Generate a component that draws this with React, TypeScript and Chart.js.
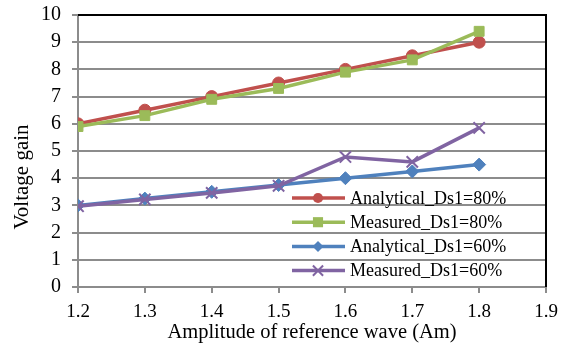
import React, { useEffect, useRef } from "react";
import { Chart, registerables } from "chart.js";

Chart.register(...registerables);

const xValues = [1.2, 1.3, 1.4, 1.5, 1.6, 1.7, 1.8];
const analytical80 = [6, 6.5, 7, 7.5, 8, 8.5, 9];
const measured80 = [5.9, 6.3, 6.9, 7.3, 7.9, 8.35, 9.4];
const analytical60 = [3, 3.25, 3.5, 3.75, 4, 4.25, 4.5];
const measured60 = [2.97, 3.22, 3.46, 3.72, 4.78, 4.6, 5.85];
const seriesNames = ["Analytical_Ds1=80%", "Measured_Ds1=80%", "Analytical_Ds1=60%", "Measured_Ds1=60%"];
const xTitle = "Amplitude of reference wave (Am)";
const yTitle = "Voltage gain";

const FONT = "'Liberation Serif', 'Times New Roman', serif";
const COLORS = ["#C0504D", "#9BBB59", "#4F81BD", "#8064A2"];
const STYLES = ["circle", "rect", "rectRot", "crossRot"];
const RADII = [6, 7, 6.5, 8];

function drawMarker(ctx: CanvasRenderingContext2D, style: string, x: number, y: number, r: number, color: string) {
  ctx.save();
  ctx.fillStyle = color;
  ctx.strokeStyle = color;
  ctx.lineWidth = 2;
  ctx.beginPath();
  if (style === "circle") {
    ctx.arc(x, y, r, 0, Math.PI * 2);
    ctx.fill();
  } else if (style === "rect") {
    const s = r * 0.85;
    ctx.rect(x - s, y - s, 2 * s, 2 * s);
    ctx.fill();
  } else if (style === "rectRot") {
    ctx.moveTo(x, y - r);
    ctx.lineTo(x + r, y);
    ctx.lineTo(x, y + r);
    ctx.lineTo(x - r, y);
    ctx.closePath();
    ctx.fill();
  } else {
    const s = r * 0.75;
    ctx.moveTo(x - s, y - s);
    ctx.lineTo(x + s, y + s);
    ctx.moveTo(x + s, y - s);
    ctx.lineTo(x - s, y + s);
    ctx.stroke();
  }
  ctx.restore();
}

const frameAndLegend = {
  id: "frameAndLegend",
  afterDraw(chart: any) {
    const { ctx, chartArea } = chart;
    ctx.save();
    ctx.strokeStyle = "#000";
    ctx.lineWidth = 2;
    ctx.beginPath();
    ctx.moveTo(chartArea.left, chartArea.top);
    ctx.lineTo(chartArea.right, chartArea.top);
    ctx.lineTo(chartArea.right, chartArea.bottom);
    ctx.stroke();
    // y title
    ctx.save();
    ctx.translate(22, chartArea.top + 162);
    ctx.rotate(-Math.PI / 2);
    ctx.font = `21px ${FONT}`;
    ctx.fillStyle = "#000";
    ctx.textAlign = "center";
    ctx.textBaseline = "middle";
    ctx.fillText(yTitle, 0, 0);
    ctx.restore();
    // legend
    const lx = chartArea.left + 214;
    const y0 = chartArea.bottom - 89;
    const gap = 24.2;
    ctx.font = `18px ${FONT}`;
    ctx.textBaseline = "middle";
    ctx.textAlign = "left";
    seriesNames.forEach((name, i) => {
      const y = y0 + i * gap;
      ctx.strokeStyle = COLORS[i];
      ctx.lineWidth = 3.5;
      ctx.beginPath();
      ctx.moveTo(lx, y);
      ctx.lineTo(lx + 53, y);
      ctx.stroke();
      drawMarker(ctx, STYLES[i], lx + 26, y, RADII[i] * 0.85, COLORS[i]);
      ctx.fillStyle = "#000";
      ctx.fillText(name, lx + 58, y + 1);
    });
    ctx.restore();
  },
};

export default function App() {
  const ref = useRef<HTMLCanvasElement | null>(null);
  useEffect(() => {
    if (!ref.current) return;
    const all = [analytical80, measured80, analytical60, measured60];
    const chart = new Chart(ref.current, {
      type: "line",
      data: {
        datasets: all.map((vals, i) => ({
          label: seriesNames[i],
          data: vals.map((v, j) => ({ x: xValues[j], y: v })),
          borderColor: COLORS[i],
          backgroundColor: COLORS[i],
          borderWidth: 3.5,
          pointStyle: STYLES[i] as any,
          pointRadius: RADII[i],
          pointBorderWidth: i === 3 ? 2 : 1,
          pointBackgroundColor: COLORS[i],
          pointBorderColor: COLORS[i],
          tension: 0,
          order: 4 - i,
        })),
      },
      options: {
        responsive: false,
        animation: false,
        layout: { padding: { top: 15, right: 24, left: 0, bottom: 0 } },
        plugins: { legend: { display: false }, tooltip: { enabled: false } },
        scales: {
          x: {
            type: "linear",
            min: 1.2,
            max: 1.9,
            afterFit: (s: any) => { s.height = 58; s.paddingLeft = 0; s.paddingRight = 0; },
            ticks: {
              stepSize: 0.1,
              autoSkip: false,
              callback: (v: any) => Number(v).toFixed(1),
              color: "#000",
              font: { family: FONT, size: 19 },
              padding: 8,
            },
            grid: { drawOnChartArea: false, drawTicks: true, tickLength: 6, color: "#8c8c8c", lineWidth: 2 },
            border: { color: "#8c8c8c", width: 2 },
            title: { display: true, text: xTitle, color: "#000", font: { family: FONT, size: 20.5 }, padding: { top: 0, bottom: 0 } },
          },
          y: {
            min: 0,
            max: 10,
            afterFit: (s: any) => { s.width = 78; s.paddingTop = 0; s.paddingBottom = 0; },
            ticks: {
              stepSize: 1,
              autoSkip: false,
              color: "#000",
              font: { family: FONT, size: 20 },
              padding: 11,
            },
            grid: { color: "#8c8c8c", lineWidth: 2, tickLength: 6 },
            border: { color: "#8c8c8c", width: 2 },
            title: { display: false },
          },
        },
      },
      plugins: [frameAndLegend],
    });
    return () => chart.destroy();
  }, []);
  return (
    <div style={{ position: "absolute", left: 0, top: 0, width: 570, height: 345, background: "#fff" }}>
      <canvas ref={ref} width={570} height={345} style={{ width: 570, height: 345 }} />
    </div>
  );
}
